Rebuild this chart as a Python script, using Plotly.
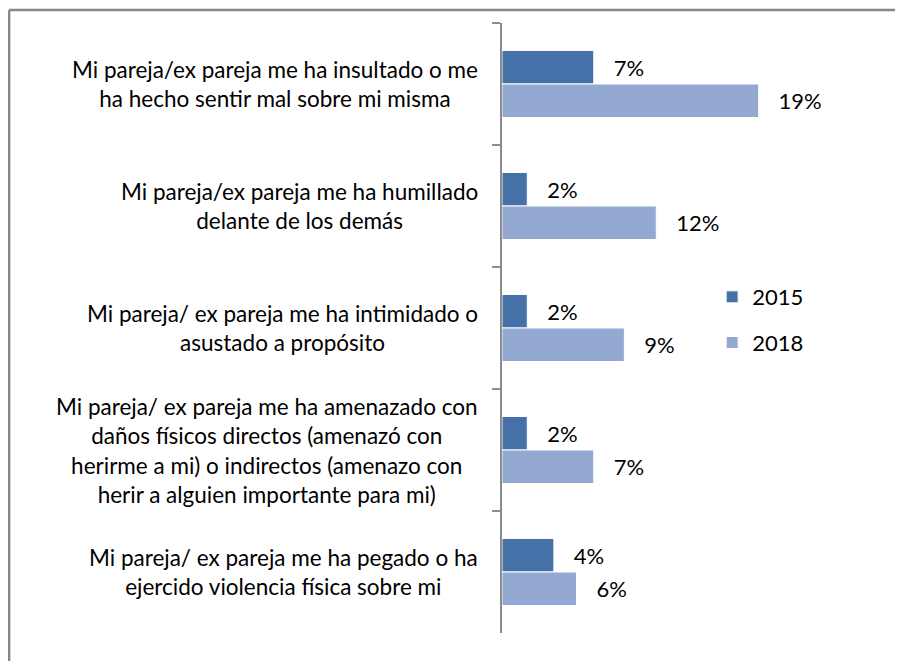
import plotly.graph_objects as go

# categories, top to bottom
categories = [
    "Mi pareja/ex pareja me ha insultado o me<br>ha hecho sentir mal sobre mi misma",
    "Mi pareja/ex pareja me ha humillado<br>delante de los demás",
    "Mi pareja/ ex pareja me ha intimidado o<br>asustado a propósito",
    "Mi pareja/ ex pareja me ha amenazado con<br>daños físicos directos (amenazó con<br>herirme a mi) o indirectos (amenazo con<br>herir a alguien importante para mi)",
    "Mi pareja/ ex pareja me ha pegado o ha<br>ejercido violencia física sobre mi",
]
values_2015 = [6.9, 1.9, 1.9, 1.9, 3.9]
values_2018 = [19.3, 11.6, 9.2, 6.9, 5.6]

FONT = "Lato"
FS = 22
PAD = "\u00a0\u00a0\u00a0"  # gap between bar end and its label

fig = go.Figure()
fig.add_trace(go.Bar(
    y=categories, x=values_2015, name="2015", orientation="h",
    marker=dict(color="#4571A8", line=dict(color="white", width=1)),
    texttemplate=PAD + "%{x:.0f}%", textposition="outside", cliponaxis=False,
    constraintext="none", textfont=dict(family=FONT, size=FS, color="black"),
    legendgroup="a",
))
fig.add_trace(go.Bar(
    y=categories, x=values_2018, name="2018", orientation="h",
    marker=dict(color="#94A9D1", line=dict(color="white", width=1)),
    texttemplate=PAD + "%{x:.0f}%", textposition="outside", cliponaxis=False,
    constraintext="none", textfont=dict(family=FONT, size=FS, color="black"),
    legendgroup="b",
))

# category labels, centred lines, right-aligned block
for cat in categories:
    fig.add_annotation(
        x=0, xref="paper", y=cat, yref="y", text=cat, showarrow=False,
        xanchor="right", align="center", xshift=-22,
        font=dict(family=FONT, size=22.5, color="black"),
    )

# frame (only top and left edge visible in the crop)
fig.add_shape(type="line", xref="paper", yref="paper",
              x0=-1.853, x1=1.6, y0=1.0213, y1=1.0213,
              line=dict(color="#888888", width=2.5))
fig.add_shape(type="line", xref="paper", yref="paper",
              x0=-1.853, x1=-1.853, y0=1.0213, y1=-0.1,
              line=dict(color="#888888", width=2.5))

# page body adds an 8px margin, so the figure is 8px smaller
fig.update_layout(
    width=895, height=653,
    margin=dict(l=494, r=135, t=15, b=28),
    paper_bgcolor="white", plot_bgcolor="white",
    barmode="group", bargap=0.45, bargroupgap=0,
    font=dict(family=FONT, size=FS, color="black"),
    showlegend=True,
    legend=dict(x=0.79, xanchor="left", y=0.513, yanchor="middle",
                tracegroupgap=14, font=dict(family=FONT, size=FS)),
)
fig.update_xaxes(range=[0, 20], visible=False)
fig.update_yaxes(
    autorange="reversed", showticklabels=False, showgrid=False,
    showline=True, linecolor="#8c8c8c", linewidth=2,
    ticks="outside", tickson="boundaries", ticklen=8,
    tickcolor="#8c8c8c", tickwidth=2,
)

fig.write_html("out.html")
